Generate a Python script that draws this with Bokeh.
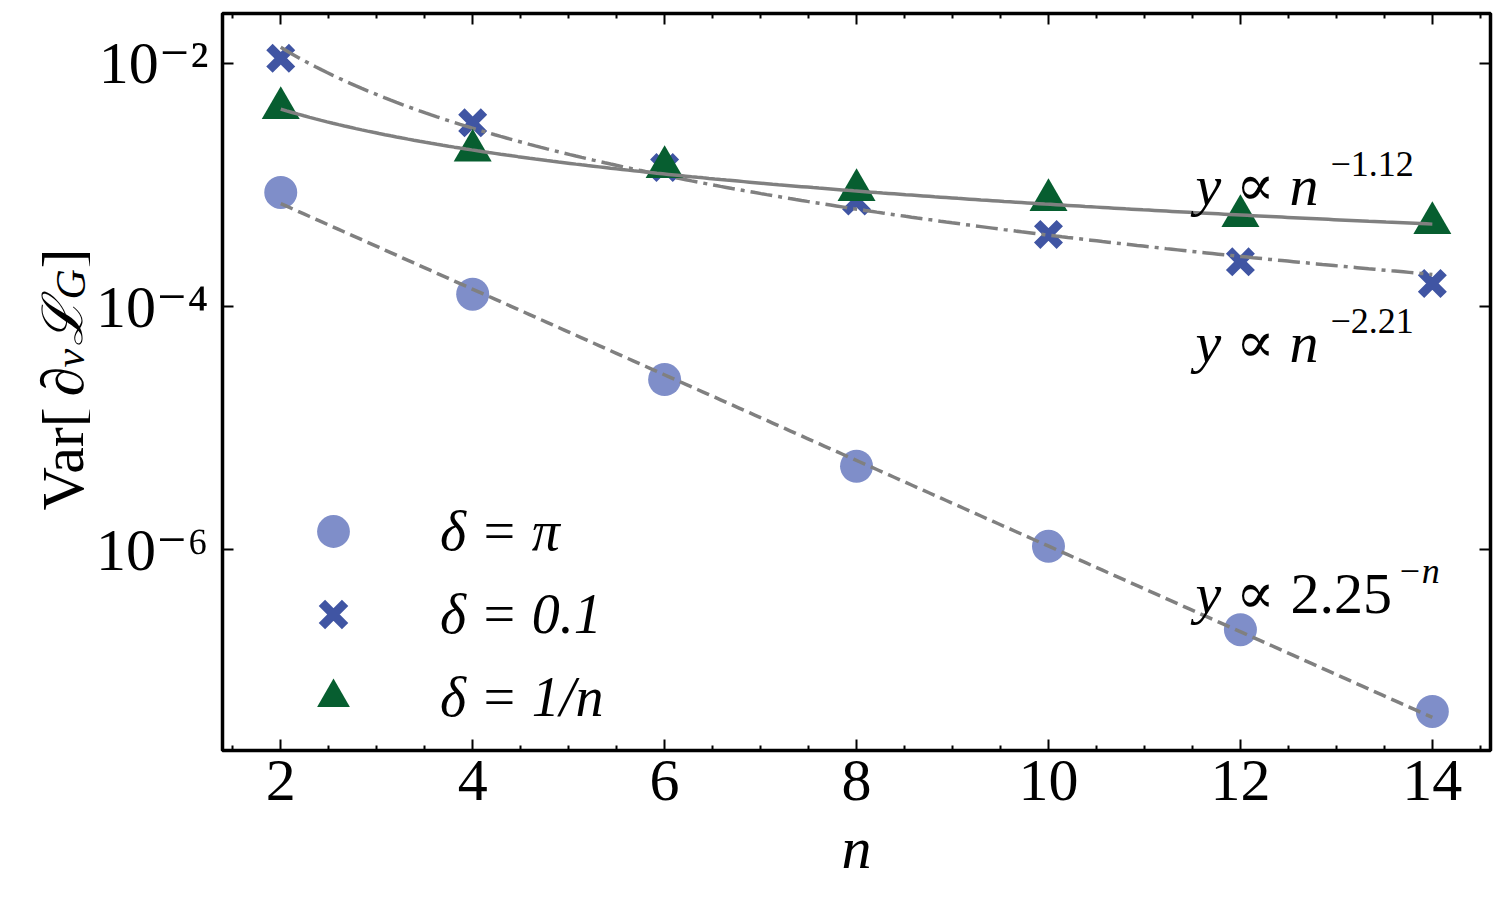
import numpy as np
from bokeh.plotting import figure
from bokeh.layouts import row
from bokeh.models import (FixedTicker, LinearAxis, LogAxis, Legend, LegendItem, Label,
                          CustomJSTickFormatter, Range1d)
from bokeh.embed import file_html
from bokeh.resources import INLINE

# ---------------- data ----------------
n_values = [2, 4, 6, 8, 10, 12, 14]
var_delta_pi = [8.68e-4, 1.263e-4, 2.507e-5, 4.85e-6, 1.065e-6, 2.196e-7, 4.67e-8]
var_delta_01 = [1.099e-2, 3.245e-3, 1.388e-3, 7.36e-4, 3.914e-4, 2.329e-4, 1.546e-4]
var_delta_1n = [4.286e-3, 1.915e-3, 1.401e-3, 9.06e-4, 7.50e-4, 5.535e-4, 4.85e-4]

# fitted scaling laws
fit_pi_amp, fit_pi_base = 3.556e-3, 2.25
fit_01_amp, fit_01_exp = 6.266e-2, -2.21
fit_1n_amp, fit_1n_exp = 9.146e-3, -1.12

legend_labels = ["δ = π", "δ = 0.1", "δ = 1/n"]
x_major_ticks = [2, 4, 6, 8, 10, 12, 14]
x_minor_ticks = [1.5, 2.5, 3, 3.5, 4.5, 5, 5.5, 6.5, 7, 7.5, 8.5, 9, 9.5,
                 10.5, 11, 11.5, 12.5, 13, 13.5, 14.5]
y_major_ticks = [1e-6, 1e-4, 1e-2]

FONT = "Liberation Serif, DejaVu Serif, serif"
GRAY = "#808080"
C_PI = "#7f8ec9"
C_01 = "#4055a3"
C_1N = "#075e30"

LBL_W = 90
FRAME_H = 737

p = figure(frame_width=1268, frame_height=FRAME_H,
           x_range=Range1d(1.393, 14.606),
           y_range=Range1d(10 ** -7.652, 10 ** -1.590),
           y_axis_type="log", output_backend="svg", toolbar_location=None,
           min_border_left=222 - LBL_W, min_border_top=13, min_border_right=6,
           min_border_bottom=10)
p.xgrid.visible = False
p.ygrid.visible = False
p.outline_line_color = "black"
p.outline_line_width = 3.5
p.outline_line_alpha = 1.0
p.background_fill_color = "white"
p.border_fill_color = "white"

sup_code = """
const sup = {'-':'\u207b','0':'\u2070','1':'\u00b9','2':'\u00b2','3':'\u00b3','4':'\u2074',
             '5':'\u2075','6':'\u2076','7':'\u2077','8':'\u2078','9':'\u2079'};
const e = Math.round(Math.log10(tick));
return '10' + String(e).split('').map(c => sup[c]).join('');
"""

xt = FixedTicker(ticks=x_major_ticks, minor_ticks=x_minor_ticks)
yt = FixedTicker(ticks=y_major_ticks, minor_ticks=[])


def style_axis(ax, show_labels):
    ax.axis_line_color = None
    ax.major_tick_in = 11
    ax.major_tick_out = 0
    ax.minor_tick_in = 5
    ax.minor_tick_out = 0
    ax.major_tick_line_width = 2
    ax.minor_tick_line_width = 2
    ax.major_tick_line_color = "black"
    ax.minor_tick_line_color = "black"
    if show_labels:
        ax.major_label_text_font = FONT
        ax.major_label_text_font_size = "60px"
        ax.major_label_text_color = "black"
    else:
        ax.formatter = CustomJSTickFormatter(code="return '';")
        ax.major_label_text_font_size = "1px"
        ax.major_label_standoff = 0


xa = p.xaxis[0]
xa.ticker = xt
style_axis(xa, True)
xa.major_label_standoff = 10
xa.axis_label = "n"
xa.axis_label_text_font = FONT
xa.axis_label_text_font_size = "60px"
xa.axis_label_text_font_style = "italic"
xa.axis_label_text_color = "black"
xa.axis_label_standoff = 12

ya = p.yaxis[0]
ya.ticker = yt
ya.formatter = CustomJSTickFormatter(code=sup_code)
style_axis(ya, True)
ya.major_label_standoff = 14

top_ax = LinearAxis(ticker=xt)
style_axis(top_ax, False)
p.add_layout(top_ax, "above")
right_ax = LogAxis(ticker=yt)
style_axis(right_ax, False)
p.add_layout(right_ax, "right")

# ---------------- glyphs ----------------
n_fine = np.linspace(min(n_values), max(n_values), 200)

r_pi = p.scatter(n_values, var_delta_pi, marker="circle", size=33,
                 fill_color=C_PI, line_color=None)
p.line(n_fine, fit_pi_amp * fit_pi_base ** (-n_fine), line_color=GRAY,
       line_width=3.5, line_dash="13 6")
r_01 = p.scatter(n_values, var_delta_01, marker="x", size=32,
                 line_color=C_01, line_width=9)
p.line(n_fine, fit_01_amp * n_fine ** fit_01_exp, line_color=GRAY,
       line_width=3.5, line_dash="22 6 4 6")
r_1n = p.scatter(n_values, var_delta_1n, marker="triangle", size=38,
                 fill_color=C_1N, line_color=None)
p.line(n_fine, fit_1n_amp * n_fine ** fit_1n_exp, line_color=GRAY,
       line_width=3.5)

legend = Legend(items=[LegendItem(label=legend_labels[0], renderers=[r_pi]),
                       LegendItem(label=legend_labels[1], renderers=[r_01]),
                       LegendItem(label=legend_labels[2], renderers=[r_1n])],
                location=(70, 12), glyph_width=82, glyph_height=82,
                label_height=82, label_standoff=66, spacing=1, padding=0,
                margin=0, border_line_color=None, background_fill_alpha=0,
                label_text_font=FONT, label_text_font_size="56px",
                label_text_font_style="italic", label_text_color="black")
p.add_layout(legend)


def lab(fig, x, y, text, size, style="normal", angle=0.0, units="screen"):
    fig.add_layout(Label(x=x, y=y, x_units=units, y_units=units, text=text,
                         text_font=FONT, text_font_size=size, text_font_style=style,
                         text_color="black", text_baseline="alphabetic",
                         text_align="left", angle=angle))


# scaling annotations
lab(p, 973, 565, "y ∝ n", "58px", "italic")
lab(p, 1108, 587, "−1.12", "36px")
lab(p, 973, 408, "y ∝ n", "58px", "italic")
lab(p, 1108, 430, "−2.21", "36px")
lab(p, 973, 157, "y ∝", "58px", "italic")
lab(p, 1068, 157, "2.25", "58px")
lab(p, 1175, 180, "−n", "36px", "italic")

# y axis label (rotated) in a narrow side figure whose frame is aligned
# with the main frame: data units = page pixels (x from left, y from top)
q = figure(frame_width=LBL_W, frame_height=FRAME_H,
           x_range=Range1d(0, LBL_W), y_range=Range1d(13 + FRAME_H, 13),
           output_backend="svg", toolbar_location=None,
           x_axis_location=None, y_axis_location=None,
           min_border_left=0, min_border_right=0, min_border_top=0,
           min_border_bottom=0)
q.outline_line_color = None
q.xgrid.visible = False
q.ygrid.visible = False
A = np.pi / 2
lab(q, 62, 510, "Var[", "60px", "normal", A, "data")
lab(q, 62, 396, "∂", "60px", "italic", A, "data")
lab(q, 69, 367, "ν", "42px", "italic", A, "data")
lab(q, 62, 345, "ℒ", "56px", "italic", A, "data")
lab(q, 70, 299, "G", "42px", "italic", A, "data")
lab(q, 62, 268, "]", "60px", "normal", A, "data")

layout = row(q, p)
open("out.html", "w").write(file_html(layout, INLINE))
